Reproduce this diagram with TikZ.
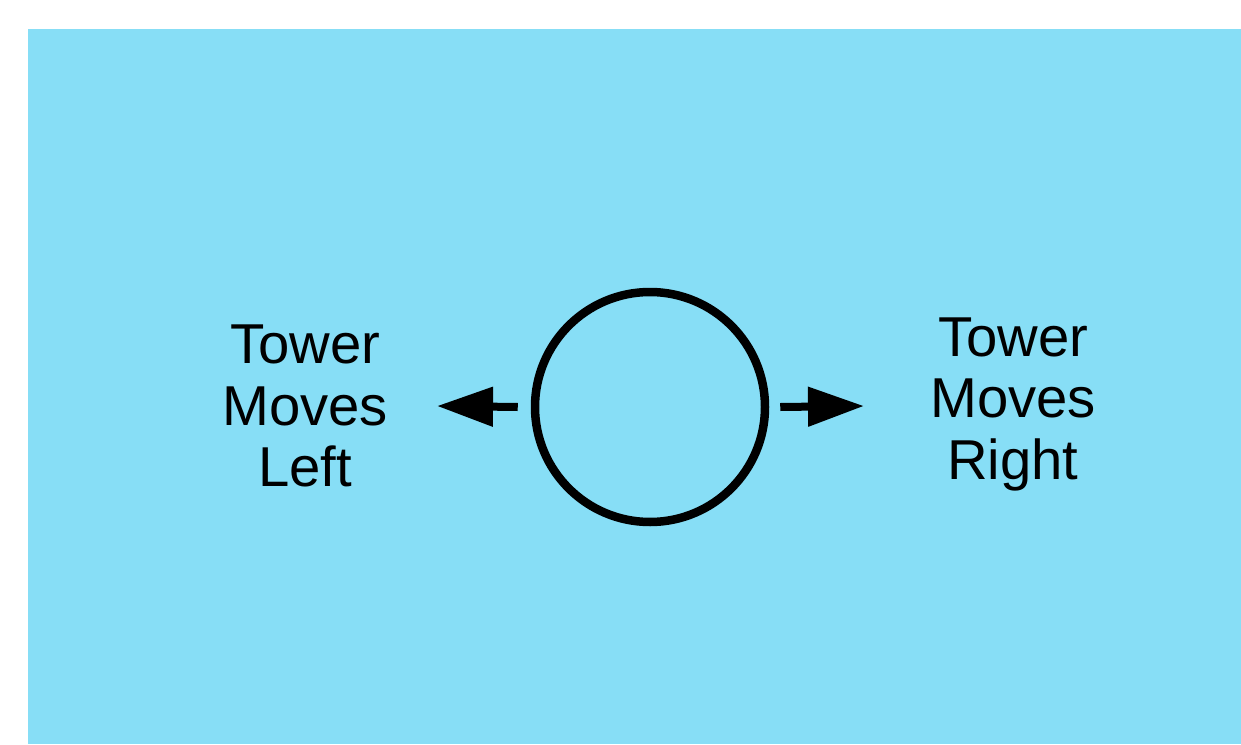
\documentclass[tikz,border=0pt]{standalone}
\usepackage{fontspec}
\setmainfont{Liberation Sans}
\usepackage{tikz}
\usetikzlibrary{arrows.meta}
\definecolor{sky}{RGB}{135,222,246}

\begin{document}
\begin{tikzpicture}
        \useasboundingbox [fill = white] (0, 0) rectangle (24.82, 14.88);
        \fill [sky] (0.56, 0) rectangle (24.82, 14.30);
        \node (tower) at (13.0, 6.74) [circle, draw, line width = 0.17cm, minimum size = 4.6cm, inner sep = 0pt] {};
        \coordinate (lefttip) at (8.74, 6.76);
        \coordinate (righttip) at (17.28, 6.76);
        \draw [-{Triangle[length = 1.12cm, width = 0.76cm]}, line width = 0.16cm] ([xshift = -0.26cm] tower.west) -- (lefttip);
        \draw [-{Triangle[length = 1.12cm, width = 0.76cm]}, line width = 0.16cm] ([xshift = 0.22cm] tower.east) -- (righttip);
        \node (left) at (6.1, 6.76) [align = center, font = \fontsize{32}{35}\selectfont] {Tower\\Moves\\Left};
        \node (right) at (20.26, 6.80) [align = center, font = \fontsize{32}{35}\selectfont] {Tower\\Moves\\Right};
    \end{tikzpicture}
\end{document}
